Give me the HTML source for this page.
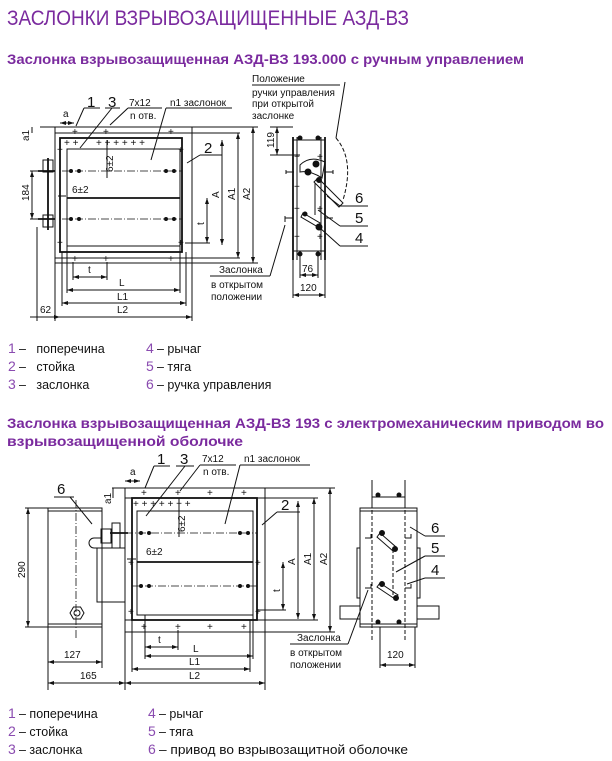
<!DOCTYPE html>
<html><head><meta charset="utf-8"><style>
html,body{margin:0;padding:0;background:#fff;}
svg{display:block;}
.t{font-family:"Liberation Sans",sans-serif;fill:#7a2a9e;}
.d{font-family:"Liberation Sans",sans-serif;fill:#111;font-size:10px;}
.n{font-family:"Liberation Sans",sans-serif;fill:#111;font-size:15px;}
.lg{font-family:"Liberation Sans",sans-serif;fill:#111;font-size:12.5px;white-space:pre;}
.ln{font-family:"Liberation Sans",sans-serif;fill:#8a4bb0;font-size:14px;}
line,rect,path,polyline,polygon,circle{stroke:#111;fill:none;stroke-width:1;}
.th{stroke-width:1.8;}
.dd{stroke-dasharray:8 2 1 2;stroke-width:.8;}
.da{stroke-dasharray:4 2;}
.f{fill:#111;}
</style></head><body>
<svg width="612" height="761" viewBox="0 0 612 761" xmlns="http://www.w3.org/2000/svg">
<defs>
<marker id="ar" markerWidth="6" markerHeight="4" refX="6" refY="2" orient="auto-start-reverse"><path d="M0,0 L6,2 L0,4 z" style="fill:#111;stroke:none"/></marker>
</defs>
<text x="7" y="25" class="t" font-size="21" textLength="402" lengthAdjust="spacingAndGlyphs">ЗАСЛОНКИ ВЗРЫВОЗАЩИЩЕННЫЕ АЗД-ВЗ</text>
<text x="7" y="64" class="t" font-size="14" font-weight="bold" textLength="517" lengthAdjust="spacingAndGlyphs">Заслонка взрывозащищенная АЗД-ВЗ 193.000 с ручным управлением</text>

<!-- TOP DRAWING -->
<rect x="55" y="127" width="137" height="136"/>
<rect x="60" y="138" width="122" height="114" class="th"/>
<rect x="67" y="149" width="113" height="97"/>
<line x1="67" y1="198" x2="180" y2="198" class="th"/>
<line x1="62" y1="171" x2="182" y2="171" class="dd"/>
<line x1="62" y1="219" x2="182" y2="219" class="dd"/>
<line x1="40" y1="127" x2="258" y2="127"/>
<line x1="55" y1="133" x2="240" y2="133"/>
<line x1="55" y1="258" x2="240" y2="258"/>
<line x1="192" y1="263" x2="258" y2="263"/>
<g class="d" font-size="11">
<text x="72" y="135">+</text><text x="103" y="135">+</text><text x="168" y="135">+</text>
<text x="64" y="146">+ +</text><text x="96" y="146">+ + +  +  + +</text>
<text x="57" y="153">+</text><text x="178" y="153">+</text>
<text x="57" y="246">+</text><text x="178" y="246">+</text>
<text x="72" y="262">+</text><text x="103" y="262">+</text><text x="168" y="262">+</text>
</g>
<circle cx="71" cy="171" r="1.5" class="f"/><circle cx="79" cy="171" r="1.5" class="f"/><circle cx="166" cy="171" r="1.5" class="f"/><circle cx="174" cy="171" r="1.5" class="f"/>
<circle cx="71" cy="219" r="1.5" class="f"/><circle cx="79" cy="219" r="1.5" class="f"/><circle cx="166" cy="219" r="1.5" class="f"/><circle cx="174" cy="219" r="1.5" class="f"/>
<!-- left handle -->
<line x1="48" y1="158" x2="48" y2="230" class="th"/>
<rect x="43" y="160" width="10" height="12"/><rect x="43" y="215" width="10" height="12"/>
<line x1="38" y1="171" x2="55" y2="171" class="th"/><line x1="38" y1="219" x2="55" y2="219" class="th"/>
<!-- dims left -->
<line x1="30" y1="171" x2="42" y2="171"/><line x1="30" y1="219" x2="42" y2="219"/>
<line x1="32" y1="171" x2="32" y2="219" marker-start="url(#ar)" marker-end="url(#ar)"/>
<text class="d" transform="translate(29,201) rotate(-90)">184</text>
<line x1="32" y1="127" x2="32" y2="133"/>
<text class="d" transform="translate(29,141) rotate(-90)">a1</text>
<line x1="60" y1="123" x2="74" y2="123" marker-start="url(#ar)" marker-end="url(#ar)"/>
<text class="d" x="63" y="117">a</text>
<text class="n" x="87" y="107">1</text><text class="n" x="108" y="107">3</text>
<line x1="84" y1="108" x2="100" y2="108"/><line x1="84" y1="108" x2="76" y2="126"/>
<line x1="105" y1="108" x2="120" y2="108"/><line x1="112" y1="108" x2="80" y2="148"/>
<text class="d" x="129" y="106">7x12</text><text class="d" x="130" y="119">n отв.</text>
<line x1="128" y1="108" x2="162" y2="108"/><line x1="128" y1="108" x2="110" y2="125"/>
<text class="d" x="170" y="106">n1 заслонок</text>
<line x1="166" y1="108" x2="232" y2="108"/><line x1="166" y1="108" x2="151" y2="160"/>
<text class="n" x="204" y="153">2</text>
<line x1="200" y1="155" x2="222" y2="155"/><line x1="200" y1="155" x2="187" y2="163"/>
<line x1="107" y1="140" x2="107" y2="178"/>
<text class="d" transform="translate(113,172) rotate(-90)">6±2</text>
<line x1="58" y1="196" x2="66" y2="196"/><text class="d" x="72" y="193">6±2</text>
<!-- right dims -->
<line x1="207" y1="198" x2="207" y2="243" marker-start="url(#ar)" marker-end="url(#ar)"/>
<line x1="185" y1="243" x2="210" y2="243"/>
<text class="d" transform="translate(204,225) rotate(-90)">t</text>
<line x1="222" y1="140" x2="222" y2="245" marker-start="url(#ar)" marker-end="url(#ar)"/>
<text class="d" transform="translate(219,198) rotate(-90)">A</text>
<line x1="238" y1="133" x2="238" y2="258" marker-start="url(#ar)" marker-end="url(#ar)"/>
<text class="d" transform="translate(235,200) rotate(-90)">A1</text>
<line x1="253" y1="127" x2="253" y2="263" marker-start="url(#ar)" marker-end="url(#ar)"/>
<text class="d" transform="translate(250,200) rotate(-90)">A2</text>
<!-- bottom dims -->
<line x1="73" y1="262" x2="73" y2="280"/><line x1="107" y1="262" x2="107" y2="280"/>
<line x1="73" y1="277" x2="107" y2="277" marker-start="url(#ar)" marker-end="url(#ar)"/>
<text class="d" x="88" y="273">t</text>
<line x1="67" y1="246" x2="67" y2="293"/><line x1="180" y1="246" x2="180" y2="293"/>
<line x1="67" y1="290" x2="180" y2="290" marker-start="url(#ar)" marker-end="url(#ar)"/>
<text class="d" x="119" y="286">L</text>
<line x1="62" y1="252" x2="62" y2="306"/><line x1="186" y1="252" x2="186" y2="306"/>
<line x1="62" y1="303" x2="186" y2="303" marker-start="url(#ar)" marker-end="url(#ar)"/>
<text class="d" x="117" y="300">L1</text>
<line x1="55" y1="263" x2="55" y2="321"/><line x1="192" y1="263" x2="192" y2="321"/>
<line x1="37" y1="227" x2="37" y2="321"/>
<line x1="30" y1="317" x2="192" y2="317" marker-end="url(#ar)"/>
<line x1="55" y1="317" x2="60" y2="317" marker-end="url(#ar)"/>
<text class="d" x="40" y="313">62</text><text class="d" x="117" y="313">L2</text>
<!-- side view top -->
<line x1="293" y1="137" x2="293" y2="260" class="th"/>
<line x1="325" y1="137" x2="325" y2="260" class="th"/>
<line x1="297" y1="137" x2="297" y2="260"/>
<line x1="321" y1="137" x2="321" y2="260"/>
<line x1="293" y1="140" x2="325" y2="140"/><line x1="293" y1="251" x2="325" y2="251"/>
<g class="d" font-size="9"><text x="294" y="160">+</text><text x="294" y="190">+</text><text x="294" y="212">+</text><text x="294" y="240">+</text><text x="317" y="160">+</text><text x="317" y="212">+</text><text x="317" y="240">+</text></g>
<circle cx="300" cy="138" r="2" class="f"/><circle cx="318" cy="138" r="2" class="f"/>
<circle cx="300" cy="254" r="2" class="f"/><circle cx="318" cy="254" r="2" class="f"/>
<path d="M300,165 Q310,155 325,162 L322,178 Q310,170 300,172 z"/>
<circle cx="316" cy="164" r="3" class="f"/><circle cx="308" cy="172" r="3" class="f"/><circle cx="319" cy="180" r="2.5" class="f"/>
<path d="M318,178 L343,203 L339,207 L314,182 z"/>
<line x1="315" y1="183" x2="315" y2="215"/>
<path d="M303,213 L320,223 L318,227 L301,217 z"/>
<circle cx="319" cy="227" r="3" class="f"/><circle cx="305" cy="214" r="2" class="f"/>
<path d="M286,172 h8 M286,170 v4 M325,172 h8 M333,170 v4"/>
<path d="M285,218 h8 M285,216 v6 M325,218 h8"/>
<path d="M336,138 Q355,160 343,200" class="da"/>
<line x1="336" y1="138" x2="345" y2="82"/>
<text class="d" x="252" y="82">Положение</text>
<line x1="252" y1="85" x2="340" y2="85"/>
<text class="d" x="252" y="96">ручки управления</text>
<text class="d" x="252" y="107">при открытой</text>
<text class="d" x="252" y="119">заслонке</text>
<line x1="270" y1="127" x2="293" y2="127"/><line x1="270" y1="155" x2="300" y2="155"/>
<line x1="277" y1="127" x2="277" y2="155" marker-start="url(#ar)" marker-end="url(#ar)"/>
<text class="d" transform="translate(274,148) rotate(-90)">119</text>
<text class="n" x="355" y="203">6</text><line x1="340" y1="206" x2="368" y2="206"/><line x1="340" y1="206" x2="327" y2="196"/>
<text class="n" x="355" y="223">5</text><line x1="340" y1="226" x2="368" y2="226"/><line x1="340" y1="226" x2="318" y2="210"/>
<text class="n" x="355" y="243">4</text><line x1="340" y1="246" x2="368" y2="246"/><line x1="340" y1="246" x2="320" y2="228"/>
<line x1="300" y1="255" x2="300" y2="278"/><line x1="318" y1="255" x2="318" y2="278"/>
<line x1="300" y1="275" x2="318" y2="275" marker-start="url(#ar)" marker-end="url(#ar)"/>
<text class="d" x="302" y="272">76</text>
<line x1="293" y1="260" x2="293" y2="298"/><line x1="325" y1="260" x2="325" y2="298"/>
<line x1="293" y1="295" x2="325" y2="295" marker-start="url(#ar)" marker-end="url(#ar)"/>
<text class="d" x="300" y="291">120</text>
<text class="d" x="219" y="273">Заслонка</text>
<line x1="210" y1="276" x2="270" y2="276"/><line x1="270" y1="276" x2="285" y2="225"/>
<text class="d" x="211" y="288">в открытом</text><text class="d" x="211" y="300">положении</text>

<!-- Legend 1 -->
<text class="ln" x="8" y="353">1</text><text class="lg" x="19" y="353">–   поперечина</text>
<text class="ln" x="8" y="371">2</text><text class="lg" x="19" y="371">–   стойка</text>
<text class="ln" x="8" y="389">3</text><text class="lg" x="19" y="389">–   заслонка</text>
<text class="ln" x="146" y="353">4</text><text class="lg" x="157" y="353">– рычаг</text>
<text class="ln" x="146" y="371">5</text><text class="lg" x="157" y="371">– тяга</text>
<text class="ln" x="146" y="389">6</text><text class="lg" x="157" y="389">– ручка управления</text>

<text x="7" y="428" class="t" font-size="14" font-weight="bold" textLength="597" lengthAdjust="spacingAndGlyphs">Заслонка взрывозащищенная АЗД-ВЗ 193 с электромеханическим приводом во</text>
<text x="7" y="446" class="t" font-size="14" font-weight="bold" textLength="236" lengthAdjust="spacingAndGlyphs">взрывозащищенной оболочке</text>

<!-- BOTTOM DRAWING -->
<rect x="125" y="488" width="140" height="144"/>
<rect x="132" y="498" width="125" height="122" class="th"/>
<rect x="137" y="511" width="116" height="104"/>
<line x1="137" y1="562" x2="253" y2="562" class="th"/>
<line x1="112" y1="533" x2="257" y2="533" class="dd"/>
<line x1="132" y1="586" x2="257" y2="586" class="dd"/>
<line x1="112" y1="488" x2="335" y2="488"/>
<line x1="125" y1="498" x2="318" y2="498"/>
<line x1="125" y1="620" x2="318" y2="620"/>
<line x1="265" y1="632" x2="335" y2="632"/>
<g class="d" font-size="11">
<text x="141" y="496">+</text><text x="175" y="496">+</text><text x="207" y="496">+</text><text x="241" y="496">+</text>
<text x="133" y="507">+ +  +  +   +  + +</text>
<text x="128" y="566">+</text><text x="255" y="566">+</text>
<text x="128" y="615">+</text><text x="255" y="615">+</text>
<text x="141" y="630">+</text><text x="175" y="630">+</text><text x="207" y="630">+</text><text x="241" y="630">+</text>
</g>
<circle cx="141" cy="533" r="1.5" class="f"/><circle cx="149" cy="533" r="1.5" class="f"/><circle cx="240" cy="533" r="1.5" class="f"/><circle cx="248" cy="533" r="1.5" class="f"/>
<circle cx="141" cy="586" r="1.5" class="f"/><circle cx="149" cy="586" r="1.5" class="f"/><circle cx="240" cy="586" r="1.5" class="f"/><circle cx="248" cy="586" r="1.5" class="f"/>
<!-- actuator -->
<rect x="48" y="508" width="54" height="119"/>
<line x1="48" y1="511" x2="102" y2="511"/><line x1="48" y1="624" x2="102" y2="624"/>
<line x1="76" y1="500" x2="76" y2="640" class="dd"/>
<rect x="97" y="548" width="28" height="54"/>
<path d="M101,529 h10 v14 h-10 z"/><path d="M94,538 a5,5 0 0 0 0,10 h8 v-10 z"/>
<rect x="112" y="523" width="8" height="25"/>
<line x1="110" y1="533" x2="128" y2="533" class="th"/>
<polygon points="70,613 73.5,607 80.5,607 84,613 80.5,619 73.5,619"/>
<circle cx="77" cy="613" r="3"/>
<line x1="25" y1="508" x2="48" y2="508"/><line x1="25" y1="627" x2="48" y2="627"/>
<line x1="28" y1="508" x2="28" y2="627" marker-start="url(#ar)" marker-end="url(#ar)"/>
<text class="d" transform="translate(25,578) rotate(-90)">290</text>
<text class="n" x="57" y="494">6</text><line x1="54" y1="497" x2="74" y2="497"/><line x1="70" y1="497" x2="92" y2="524"/>
<line x1="48" y1="627" x2="48" y2="690"/><line x1="102" y1="602" x2="102" y2="668"/>
<line x1="48" y1="662" x2="102" y2="662" marker-start="url(#ar)" marker-end="url(#ar)"/>
<text class="d" x="64" y="658">127</text>
<line x1="48" y1="683" x2="125" y2="683" marker-start="url(#ar)" marker-end="url(#ar)"/>
<text class="d" x="80" y="679">165</text>
<line x1="125" y1="632" x2="125" y2="690"/><line x1="265" y1="632" x2="265" y2="690"/>
<line x1="125" y1="683" x2="265" y2="683" marker-start="url(#ar)" marker-end="url(#ar)"/>
<text class="d" x="189" y="679">L2</text>
<line x1="132" y1="620" x2="132" y2="672"/><line x1="250" y1="620" x2="250" y2="672"/>
<line x1="132" y1="669" x2="250" y2="669" marker-start="url(#ar)" marker-end="url(#ar)"/>
<text class="d" x="189" y="665">L1</text>
<line x1="145" y1="615" x2="145" y2="659"/><line x1="253" y1="615" x2="253" y2="659"/>
<line x1="145" y1="656" x2="253" y2="656" marker-start="url(#ar)" marker-end="url(#ar)"/>
<text class="d" x="193" y="652">L</text>
<line x1="178" y1="630" x2="178" y2="650"/>
<line x1="145" y1="647" x2="178" y2="647" marker-start="url(#ar)" marker-end="url(#ar)"/>
<text class="d" x="158" y="643">t</text>
<!-- labels -->
<line x1="125" y1="481" x2="140" y2="481" marker-start="url(#ar)" marker-end="url(#ar)"/>
<text class="d" x="130" y="475">a</text>
<line x1="113" y1="488" x2="113" y2="498"/>
<text class="d" transform="translate(111,504) rotate(-90)">a1</text>
<text class="n" x="157" y="464">1</text><text class="n" x="180" y="464">3</text>
<line x1="154" y1="466" x2="170" y2="466"/><line x1="154" y1="466" x2="145" y2="488"/>
<line x1="176" y1="466" x2="194" y2="466"/><line x1="185" y1="466" x2="146" y2="516"/>
<text class="d" x="202" y="462">7x12</text><text class="d" x="203" y="475">n отв.</text>
<line x1="200" y1="465" x2="236" y2="465"/><line x1="200" y1="465" x2="180" y2="491"/>
<text class="d" x="244" y="462">n1 заслонок</text>
<line x1="240" y1="465" x2="310" y2="465"/><line x1="240" y1="465" x2="225" y2="524"/>
<text class="n" x="281" y="510">2</text>
<line x1="277" y1="512" x2="300" y2="512"/><line x1="277" y1="512" x2="262" y2="525"/>
<line x1="179" y1="498" x2="179" y2="537"/>
<text class="d" transform="translate(185,532) rotate(-90)">6±2</text>
<line x1="127" y1="559" x2="136" y2="559"/><text class="d" x="146" y="555">6±2</text>
<line x1="283" y1="562" x2="283" y2="610" marker-start="url(#ar)" marker-end="url(#ar)"/>
<line x1="258" y1="610" x2="286" y2="610"/>
<text class="d" transform="translate(280,592) rotate(-90)">t</text>
<line x1="298" y1="501" x2="298" y2="619" marker-start="url(#ar)" marker-end="url(#ar)"/>
<text class="d" transform="translate(295,565) rotate(-90)">A</text>
<line x1="314" y1="498" x2="314" y2="620" marker-start="url(#ar)" marker-end="url(#ar)"/>
<text class="d" transform="translate(311,565) rotate(-90)">A1</text>
<line x1="330" y1="488" x2="330" y2="632" marker-start="url(#ar)" marker-end="url(#ar)"/>
<text class="d" transform="translate(327,565) rotate(-90)">A2</text>
<!-- side view bottom -->
<rect x="360" y="508" width="57" height="119"/>
<line x1="360" y1="511" x2="417" y2="511"/><line x1="360" y1="624" x2="417" y2="624"/>
<line x1="372" y1="480" x2="372" y2="640" class="da"/><line x1="405" y1="480" x2="405" y2="640" class="da"/>
<line x1="372" y1="480" x2="372" y2="508"/><line x1="405" y1="480" x2="405" y2="508"/>
<line x1="372" y1="497" x2="405" y2="497"/>
<circle cx="378" cy="495" r="2" class="f"/><circle cx="399" cy="495" r="2" class="f"/>
<circle cx="378" cy="622" r="2" class="f"/><circle cx="399" cy="622" r="2" class="f"/>
<rect x="357" y="548" width="3" height="50"/><rect x="417" y="548" width="3" height="50"/>
<rect x="340" y="606" width="20" height="13"/><rect x="417" y="606" width="22" height="13"/>
<path d="M365,538 h6 v-4 M405,538 h6 v-4 M365,588 h6 v-4 M405,588 h6 v-4"/>
<path d="M380,533 L396,547 L393,551 L377,537 z"/><circle cx="382" cy="533" r="2.5" class="f"/><circle cx="395" cy="549" r="2.5" class="f"/>
<path d="M380,583 L398,595 L395,599 L377,587 z"/><circle cx="382" cy="584" r="2.5" class="f"/><circle cx="396" cy="598" r="2.5" class="f"/>
<line x1="393" y1="549" x2="393" y2="596" class="da"/>
<text class="n" x="431" y="533">6</text><line x1="425" y1="536" x2="445" y2="536"/><line x1="425" y1="536" x2="410" y2="527"/>
<text class="n" x="431" y="553">5</text><line x1="425" y1="556" x2="445" y2="556"/><line x1="425" y1="556" x2="396" y2="572"/>
<text class="n" x="431" y="575">4</text><line x1="425" y1="578" x2="445" y2="578"/><line x1="425" y1="578" x2="407" y2="584"/>
<line x1="380" y1="627" x2="380" y2="668"/><line x1="415" y1="627" x2="415" y2="668"/>
<line x1="380" y1="665" x2="415" y2="665" marker-start="url(#ar)" marker-end="url(#ar)"/>
<text class="d" x="387" y="658">120</text>
<text class="d" x="297" y="641">Заслонка</text>
<line x1="290" y1="644" x2="348" y2="644"/><line x1="348" y1="644" x2="368" y2="590"/>
<text class="d" x="290" y="656">в открытом</text><text class="d" x="290" y="668">положении</text>

<!-- Legend 2 -->
<text class="ln" x="8" y="718">1</text><text class="lg" x="19" y="718">– поперечина</text>
<text class="ln" x="8" y="736">2</text><text class="lg" x="19" y="736">– стойка</text>
<text class="ln" x="8" y="754">3</text><text class="lg" x="19" y="754">– заслонка</text>
<text class="ln" x="148" y="718">4</text><text class="lg" x="159" y="718">– рычаг</text>
<text class="ln" x="148" y="736">5</text><text class="lg" x="159" y="736">– тяга</text>
<text class="ln" x="148" y="754">6</text><text class="lg" x="159" y="754" textLength="249" lengthAdjust="spacingAndGlyphs">– привод во взрывозащитной оболочке</text>
</svg>
</body></html>
